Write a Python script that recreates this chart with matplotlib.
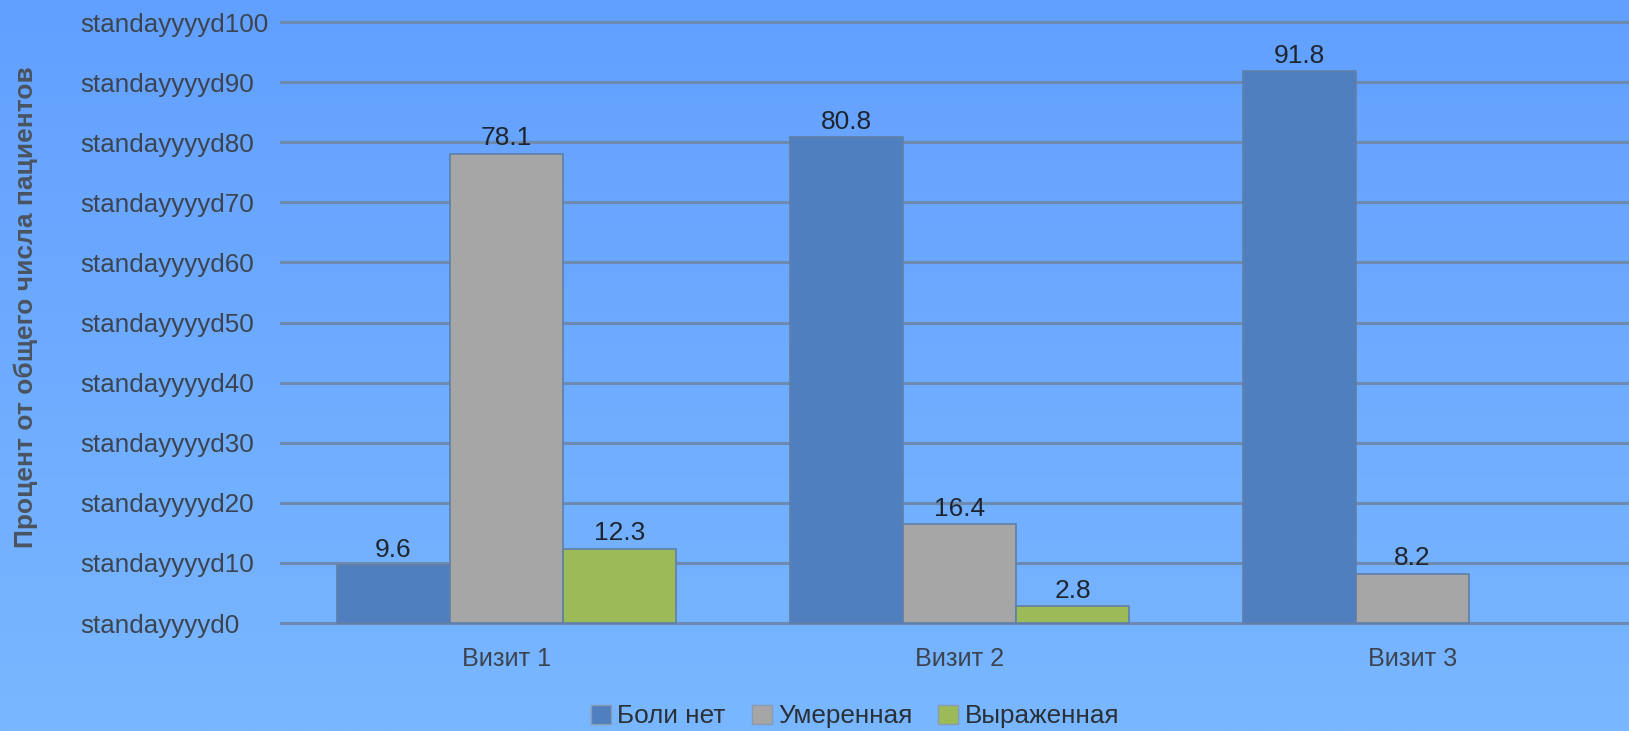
import numpy as np
import matplotlib.pyplot as plt
from matplotlib.patches import Patch

# data
visits = ['Визит 1', 'Визит 2', 'Визит 3']
no_pain = [9.6, 80.8, 91.8]
moderate = [78.1, 16.4, 8.2]
severe = [12.3, 2.8, 0.0]
series_names = ['Боли нет', 'Умеренная', 'Выраженная']
ytick_vals = [0, 10, 20, 30, 40, 50, 60, 70, 80, 90, 100]
ytick_text = ['standayyyyd' + str(v) for v in ytick_vals]

colors = ['#4f7fbe', '#a6a6a6', '#9bbb59']
plt.rcParams['font.family'] = ['Liberation Sans', 'DejaVu Sans']

fig = plt.figure(figsize=(16.29, 7.31), dpi=100)

# gradient background
bg = fig.add_axes([0, 0, 1, 1], zorder=-10)
grad = np.linspace(0, 1, 256).reshape(-1, 1)
top = np.array([98, 160, 255]) / 255.0
bot = np.array([121, 183, 255]) / 255.0
img = top[None, None, :] * (1 - grad[:, :, None]) + bot[None, None, :] * grad[:, :, None]
bg.imshow(img, aspect='auto', extent=[0, 1, 0, 1])
bg.axis('off')

ax = fig.add_axes([0.172, 0.1395, 0.828, 0.8468])
ax.set_facecolor('none')

x = np.arange(len(visits))
w = 0.25
all_series = [no_pain, moderate, severe]
for i, (vals, c) in enumerate(zip(all_series, colors)):
    pos = x + (i - 1) * w
    lws = [1.2 if v > 0 else 0 for v in vals]
    ax.bar(pos, vals, width=w, color=c, edgecolor='#5f7fa8', linewidth=lws, zorder=3)
    for xb, v in zip(pos, vals):
        if v > 0:
            ax.text(xb, v + 0.6, f'{v:.1f}', ha='center', va='bottom',
                    fontsize=19, color='#1f2530', zorder=4)

ax.set_xlim(-0.5, 2.478)
ax.set_ylim(-1, 102)
ax.set_yticks(ytick_vals)
ax.set_yticklabels(ytick_text)
ax.yaxis.grid(True, color='#6d8ab0', linewidth=2.2, zorder=1)
ax.set_axisbelow(True)
ax.tick_params(axis='y', length=0, pad=144, labelsize=18.7, labelcolor='#3b4450')
for lab in ax.get_yticklabels():
    lab.set_horizontalalignment('left')
ax.set_xticks(x)
ax.set_xticklabels(visits)
ax.tick_params(axis='x', length=0, pad=13, labelsize=18.2, labelcolor='#3b4450')
for s in ax.spines.values():
    s.set_visible(False)

fig.text(0.016, 0.58, 'Процент от общего числа пациентов', rotation=90,
         ha='center', va='center', fontsize=19, fontweight='bold', color='#4a5460')

handles = [Patch(facecolor=c, edgecolor='#8a9ab0') for c in colors]
fig.legend(handles, series_names, loc='center', bbox_to_anchor=(0.525, 0.02),
           ncol=3, frameon=False, fontsize=18.8, handlelength=0.75, handleheight=0.75,
           handletextpad=0.25, columnspacing=1.0, labelcolor='#2a3038')

fig.savefig('out.png', dpi=100)
